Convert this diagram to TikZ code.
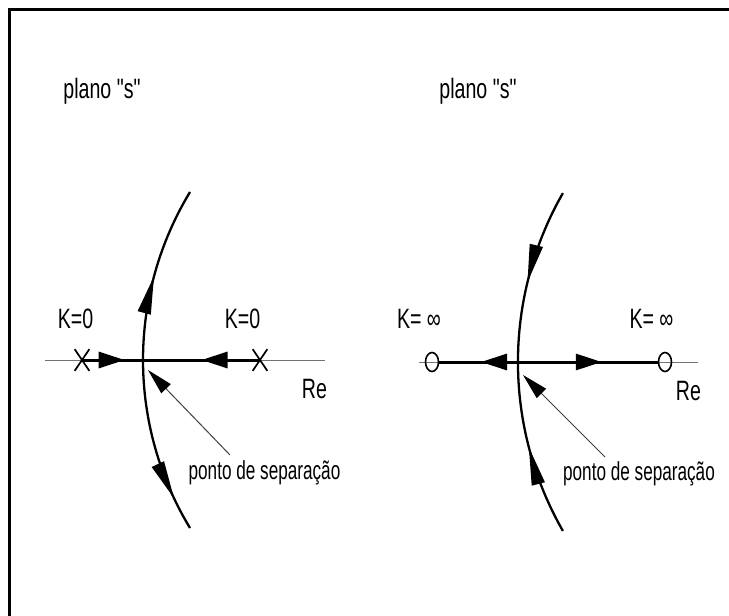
\documentclass[tikz,border=0pt]{standalone}
\usepackage{fontspec}
\newfontfamily\labfont{Liberation Sans}[FakeStretch=0.70]
\newfontfamily\notefont{Liberation Sans}[FakeStretch=0.66]
\usetikzlibrary{arrows.meta,decorations.markings,shapes.misc,shapes.geometric}
\tikzset{
  lab/.style={font=\labfont\fontsize{28}{32}\selectfont, inner sep=0pt, anchor=base},
  note/.style={font=\notefont\fontsize{26}{30}\selectfont, inner sep=0pt, anchor=base},
  axisline/.style={line width=1pt, black!55},
  locus/.style={line width=3pt, black},
  rootarc/.style={line width=2.3pt, black},
  pointer/.style={line width=1pt, black!75, -{Triangle[length=26pt,width=13pt,fill=black,color=black]}},
  zeromark/.style={ellipse, draw, line width=1.6pt, minimum width=13pt, minimum height=19pt, inner sep=0pt},
  polemark/.style={cross out, draw, line width=1.7pt, minimum width=13pt, minimum height=20pt, inner sep=0pt},
  harrow/.style={postaction={decorate}, decoration={markings, mark=at position #1 with {\arrow{Triangle[length=26pt,width=16pt]}}}},
  varrow/.style={postaction={decorate}, decoration={markings, mark=at position #1 with {\arrow{Triangle[length=38pt,width=13pt]}}}},
}
\begin{document}
\begin{tikzpicture}[x=1pt,y=-1pt]
\useasboundingbox (0,0) rectangle (729,616);
% frame (top and left edges visible)
\draw[line width=3pt] (9.5,740) -- (9.5,9.5) -- (760,9.5);

% ---------- left plane ----------
\node[lab] (tL) at (102,98) {plano "s"};
\coordinate (axL1) at (45,360);
\coordinate (axL2) at (325,360);
\draw[axisline] (axL1) -- (axL2);
\node[polemark] (pL1) at (82,360) {};
\node[polemark] (pL2) at (260,360) {};
\coordinate (bL) at (143,360);
\draw[locus, harrow=0.70] (pL1.center) -- (bL);
\draw[locus, harrow=0.50] (pL2.center) -- (bL);
\draw[rootarc, varrow=0.48] (bL) arc[start angle=180, end angle=211.25, radius=323.8];
\draw[rootarc, varrow=0.81] (bL) arc[start angle=180, end angle=148.75, radius=323.8];
\node[lab] (kL1) at (75.5,328) {K=0};
\node[lab] (kL2) at (242.5,328) {K=0};
\node[lab] (reL) at (314.5,398) {Re};
\node[note] (sL) at (264.5,479) {ponto de separação};
\coordinate (pfL) at (230,455);
\coordinate (ptL) at (148,370);
\draw[pointer] (pfL) -- (ptL);

% ---------- right plane ----------
\node[lab] (tR) at (478,98) {plano "s"};
\coordinate (axR1) at (419,362);
\coordinate (axR2) at (698,362);
\draw[axisline] (axR1) -- (axR2);
\node[zeromark] (zR1) at (432,362) {};
\node[zeromark] (zR2) at (665,362) {};
\coordinate (bR) at (518,362);
\draw[locus, harrow=0.47] (bR) -- (zR1);
\draw[locus, harrow=0.60] (bR) -- (zR2);
\coordinate (topR) at (562.9,193.1);
\coordinate (botR) at (562.9,530.9);
\draw[rootarc, varrow=0.545] (topR) arc[start angle=209.8, end angle=180, radius=339.8];
\draw[rootarc, varrow=0.513] (botR) arc[start angle=150.2, end angle=180, radius=339.8];
\node[lab] (kR1) at (419,328) {K= ∞};
\node[lab] (kR2) at (651.5,328) {K= ∞};
\node[lab] (reR) at (688.5,400) {Re};
\node[note] (sR) at (639,480) {ponto de separação};
\coordinate (pfR) at (605,457);
\coordinate (ptR) at (523,375);
\draw[pointer] (pfR) -- (ptR);
\end{tikzpicture}
\end{document}
